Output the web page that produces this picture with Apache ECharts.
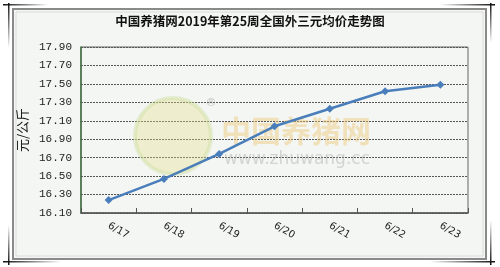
<!DOCTYPE html>
<html><head><meta charset="utf-8">
<script src="https://cdn.jsdelivr.net/npm/echarts@6/dist/echarts.min.js"></script>
<style>html,body{margin:0;padding:0;background:#fff}#c{width:500px;height:267px}</style>
</head><body><div id="c"></div>
<script>
const categories = ['6/17','6/18','6/19','6/20','6/21','6/22','6/23'];
const prices = [16.24, 16.47, 16.74, 17.04, 17.23, 17.42, 17.49];
const titleText = '中国养猪网2019年第25周全国外三元均价走势图';
const yName = '元/公斤';

const chart = echarts.init(document.getElementById('c'), null, {renderer:'canvas'});
const fade = (dir, c) => ({type:'linear', x:dir==='h'?0:0, y:0, x2:dir==='h'?1:0, y2:dir==='v'?1:0,
  colorStops:[{offset:0,color:c[0]},{offset:1,color:c[1]}]});
chart.setOption({
  backgroundColor:'#ffffff',
  animation:false,
  graphic:[
    {type:'rect', z:-10, shape:{x:13,y:9,width:473,height:250}, style:{fill:'#f3f6f2', stroke:'#8a8a8a', lineWidth:2}},
    {type:'rect', z:-9, shape:{x:16,y:12,width:467,height:244}, style:{fill:'none', stroke:'#dcdcdc', lineWidth:1}},
    // corner marks
    {type:'rect', shape:{x:3,y:4,width:45,height:1.5}, style:{fill:fade('h',['#111','rgba(0,0,0,0)'])}},
    {type:'rect', shape:{x:8,y:3,width:1.5,height:45}, style:{fill:fade('v',['#111','rgba(0,0,0,0)'])}},
    {type:'rect', shape:{x:440,y:4,width:55,height:1.5}, style:{fill:fade('h',['rgba(0,0,0,0)','#111'])}},
    {type:'rect', shape:{x:490,y:3,width:1.5,height:40}, style:{fill:fade('v',['#111','rgba(0,0,0,0)'])}},
    {type:'rect', shape:{x:3,y:261,width:58,height:1.5}, style:{fill:fade('h',['#111','rgba(0,0,0,0)'])}},
    {type:'rect', shape:{x:8,y:225,width:1.5,height:40}, style:{fill:fade('v',['rgba(0,0,0,0)','#111'])}},
    {type:'rect', shape:{x:430,y:261,width:65,height:1.5}, style:{fill:fade('h',['rgba(0,0,0,0)','#111'])}},
    {type:'rect', shape:{x:490,y:220,width:1.5,height:45}, style:{fill:fade('v',['rgba(0,0,0,0)','#111'])}},
    // watermark
    {type:'circle', z:1, shape:{cx:173,cy:136,r:38}, style:{fill:'rgba(230,220,140,0.35)', stroke:'rgba(200,220,150,0.4)', lineWidth:4}},
    {type:'text', z:1, style:{x:211,y:103,text:'®',fill:'rgba(150,150,150,0.5)',font:'11px "DejaVu Sans"',textAlign:'center',textVerticalAlign:'middle'}},
    {type:'text', z:1, style:{x:296,y:131,text:'中国养猪网',fill:'rgba(240,200,120,0.45)',font:'bold 30px "Noto Sans CJK SC"',textAlign:'center',textVerticalAlign:'middle'}},
    {type:'text', z:1, style:{x:297,y:160,text:'www.zhuwang.cc',fill:'rgba(170,170,170,0.45)',font:'17px "DejaVu Sans"',textAlign:'center',textVerticalAlign:'middle'}}
  ],
  title:{text:titleText, left:245, top:10, textAlign:'center',
    textStyle:{fontSize:12.5, fontWeight:'bold', color:'#111', fontFamily:'"Noto Sans CJK SC"'}},
  grid:{left:81, right:32, top:47, bottom:54, show:true, borderColor:'#666', borderWidth:1, backgroundColor:'transparent'},
  xAxis:{type:'category', data:categories, boundaryGap:true,
    axisLine:{lineStyle:{color:'#555', width:1.5}},
    axisTick:{show:true, inside:true, length:5, alignWithLabel:false, lineStyle:{color:'#555'}},
    axisLabel:{rotate:-30, margin:12, fontSize:10, color:'#222', fontFamily:'"DejaVu Sans"'},
    splitLine:{show:false}},
  yAxis:{type:'value', min:16.10, max:17.90, interval:0.20,
    name:yName, nameLocation:'middle', nameGap:44, nameRotate:90,
    nameTextStyle:{fontSize:13, color:'#111', fontFamily:'"Noto Sans CJK SC"'},
    axisLine:{show:true, lineStyle:{color:'#3f6f3f', width:1.5}},
    axisTick:{show:false},
    axisLabel:{fontSize:11, color:'#222', margin:9, fontFamily:'"Liberation Mono"', formatter:v=>v.toFixed(2)},
    splitLine:{show:true, lineStyle:{color:'#555', type:[2,1], width:1}}},
  series:[{type:'line', data:prices, z:5, symbol:'diamond', symbolSize:8,
    lineStyle:{color:'#4a7ebb', width:2.5}, itemStyle:{color:'#4a7ebb'}}]
});
</script></body></html>
